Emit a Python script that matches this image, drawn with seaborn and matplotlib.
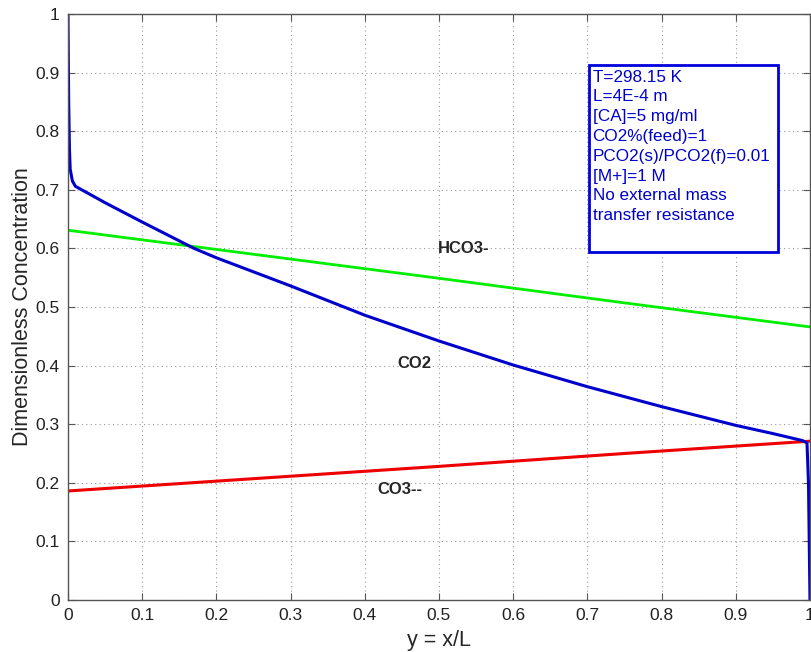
import seaborn as sns
import matplotlib.pyplot as plt
import matplotlib.patches as patches
import pandas as pd

# CO2 profile (blue)
co2_x = [0.0, 0.0005, 0.001, 0.002, 0.003, 0.006, 0.01, 0.05, 0.1, 0.17, 0.2, 0.3, 0.4,
         0.5, 0.6, 0.7, 0.8, 0.9, 0.95, 0.99, 0.996, 0.998, 1.0]
co2_y = [1.0, 0.92, 0.85, 0.77, 0.735, 0.715, 0.706, 0.678, 0.645, 0.600, 0.584, 0.536, 0.486,
         0.442, 0.401, 0.364, 0.330, 0.298, 0.284, 0.272, 0.268, 0.20, 0.0]

# HCO3- profile (green)
hco3_x = [0.0, 0.25, 0.5, 0.75, 1.0]
hco3_y = [0.631, 0.590, 0.549, 0.507, 0.466]

# CO3-- profile (red)
co3_x = [0.0, 0.25, 0.5, 0.75, 1.0]
co3_y = [0.186, 0.207, 0.228, 0.250, 0.271]

tick_vals = [0, 0.1, 0.2, 0.3, 0.4, 0.5, 0.6, 0.7, 0.8, 0.9, 1]
tick_text = ["0", "0.1", "0.2", "0.3", "0.4", "0.5", "0.6", "0.7", "0.8", "0.9", "1"]

info_lines = ["T=298.15 K", "L=4E-4 m", "[CA]=5 mg/ml", "CO2%(feed)=1",
              "PCO2(s)/PCO2(f)=0.01", "[M+]=1 M", "No external mass",
              "transfer resistance"]

sns.set_style("whitegrid")
plt.rcParams['font.family'] = ['Liberation Sans', 'DejaVu Sans']

fig = plt.figure(figsize=(8.12, 6.52), dpi=100)
ax = fig.add_axes([0.0837, 0.0798, 0.9138, 0.8987])

df_co2 = pd.DataFrame({"x": co2_x, "y": co2_y})
df_hco3 = pd.DataFrame({"x": hco3_x, "y": hco3_y})
df_co3 = pd.DataFrame({"x": co3_x, "y": co3_y})

sns.lineplot(data=df_hco3, x="x", y="y", color="#00ee00", linewidth=2, sort=False, ax=ax)
sns.lineplot(data=df_co3, x="x", y="y", color="#ee0000", linewidth=2.2, sort=False, ax=ax)
sns.lineplot(data=df_co2, x="x", y="y", color="#0000cc", linewidth=2.2, sort=False, ax=ax)

ax.set_xlim(0, 1)
ax.set_ylim(0, 1)
ax.set_xticks(tick_vals)
ax.set_yticks(tick_vals)
ax.set_xticklabels(tick_text)
ax.set_yticklabels(tick_text)
ax.grid(True, linestyle=(0, (1, 3)), color="#999999", linewidth=0.8)
for s in ax.spines.values():
    s.set_color("#555555")
    s.set_linewidth(1.0)
ax.tick_params(direction="in", length=5, width=0.8, color="#555555",
               top=True, right=True, bottom=True, left=True,
               labelsize=12.5, labelcolor="#222222", pad=6)

ax.set_xlabel("y = x/L", fontsize=15.5, labelpad=5)
ax.set_ylabel("Dimensionless Concentration", fontsize=15.5, labelpad=2)

ax.text(0.533, 0.599, "HCO3-", fontsize=12, fontweight="bold", ha="center", va="center")
ax.text(0.467, 0.403, "CO2", fontsize=12, fontweight="bold", ha="center", va="center")
ax.text(0.447, 0.189, "CO3--", fontsize=12, fontweight="bold", ha="center", va="center")

box = patches.Rectangle((0.702, 0.594), 0.255, 0.319, transform=ax.transAxes,
                        facecolor="white", edgecolor="#0000dd", linewidth=2, zorder=5)
ax.add_patch(box)
ax.text(0.707, 0.905, "\n".join(info_lines), transform=ax.transAxes, fontsize=12.3,
        color="#0000cc", va="top", ha="left", linespacing=1.4, zorder=6)

fig.savefig("out.png", dpi=100)
